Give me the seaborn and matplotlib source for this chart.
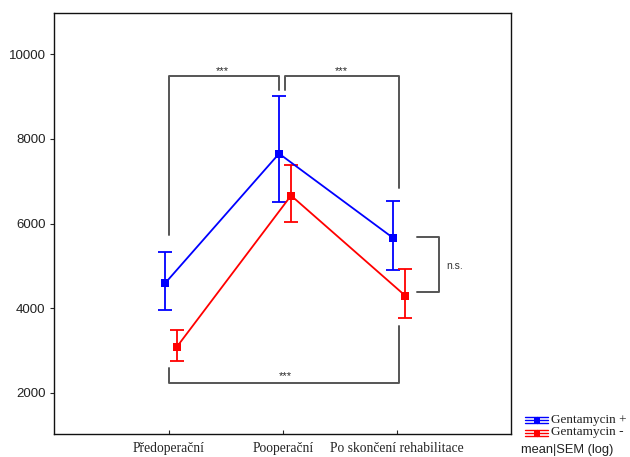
import matplotlib
matplotlib.use("Agg")
import matplotlib.pyplot as plt
import seaborn as sns
import pandas as pd
import numpy as np

categories = ["Předoperační", "Pooperační", "Po skončení rehabilitace"]
groups = ["Gentamycin +", "Gentamycin -"]
blue_mean = [4590, 7650, 5660]
blue_low = [3960, 6500, 4900]
blue_high = [5330, 9010, 6540]
red_mean = [3095, 6660, 4300]
red_low = [2765, 6040, 3775]
red_high = [3475, 7370, 4930]
yticks = [2000, 4000, 6000, 8000, 10000]
sig_labels = ["***", "***", "***", "n.s."]

sns.set_style("white")
plt.rcParams["font.family"] = ["Liberation Sans", "DejaVu Sans"]

fig = plt.figure(figsize=(6.3, 4.57), dpi=100)
ax = fig.add_axes([54/630, 1-434/457, (511-54)/630, (434-13)/457])

offsets = [-0.035, 0.07]
colors = ["#0000ff", "#ff0000"]
means = [blue_mean, red_mean]
lows = [blue_low, red_low]
highs = [blue_high, red_high]

rows = []
for g, off, m in zip(groups, offsets, means):
    for i, (c, v) in enumerate(zip(categories, m)):
        rows.append({"group": g, "x": i + off, "value": v})
df = pd.DataFrame(rows)

sns.lineplot(data=df, x="x", y="value", hue="group", palette=colors,
             marker="s", markersize=6, markeredgewidth=0, linewidth=1.3,
             legend=False, ax=ax, zorder=3)

for g, off, m, lo, hi, col in zip(groups, offsets, means, lows, highs, colors):
    x = np.arange(len(categories)) + off
    m = np.array(m); lo = np.array(lo); hi = np.array(hi)
    ax.errorbar(x, m, yerr=[m - lo, hi - m], fmt="none", ecolor=col,
                elinewidth=1.3, capsize=5, capthick=1.3, zorder=2)

# significance brackets
bc = "#555555"
blw = 1.4
ax.plot([0, 0, 0.965, 0.965], [5740, 9490, 9490, 9155], color=bc, lw=blw)
ax.plot([1.018, 1.018, 2.018, 2.018], [9155, 9490, 9490, 6830], color=bc, lw=blw)
ax.plot([0, 0, 2.018, 2.018], [2600, 2230, 2230, 3570], color=bc, lw=blw)
ax.plot([2.173, 2.371, 2.371, 2.173], [5675, 5675, 4374, 4374], color=bc, lw=blw)
ax.text(0.47, 9600, sig_labels[0], ha="center", va="center", fontsize=8)
ax.text(1.51, 9600, sig_labels[1], ha="center", va="center", fontsize=8)
ax.text(1.02, 2400, sig_labels[2], ha="center", va="center", fontsize=8)
ax.text(2.43, 4990, sig_labels[3], ha="left", va="center", fontsize=7.5, color="#333333")

ax.set_xlim(-1.01, 3.0)
ax.set_ylim(1030, 10970)
ax.set_yticks(yticks)
ax.set_yticklabels([str(t) for t in yticks], fontsize=9.5, color="#222222")
ax.set_xticks(range(len(categories)))
ax.set_xticklabels(categories, fontsize=9.8, family=["Liberation Serif"])
ax.tick_params(axis="y", direction="out", length=3, width=0.8, pad=3, left=True)
ax.tick_params(axis="x", direction="in", length=3, width=0.8, pad=6, bottom=True)
ax.set_xlabel("")
ax.set_ylabel("")
for s in ax.spines.values():
    s.set_color("#111111")
    s.set_linewidth(1.0)

# legend drawn in pixel coordinates
lax = fig.add_axes([520/630, 0, 110/630, 50/457])
lax.set_xlim(0, 110)
lax.set_ylim(50, 0)
lax.axis("off")
for col, yc, lab in [(colors[0], 12.5, groups[0]), (colors[1], 25.5, groups[1])]:
    for dy in (-3, 0, 3):
        lax.plot([5, 28], [yc + dy, yc + dy], color=col, lw=1.0)
    lax.plot([16.5, 16.5], [yc - 3, yc + 3], color=col, lw=1.0)
    lax.plot([16.5], [yc], marker="s", color=col, markersize=4.5, markeredgewidth=0)
    lax.text(31, yc, lab, va="center", ha="left", fontsize=9.5,
             family=["Liberation Serif"], color="#222222")
lax.text(1, 42.5, "mean|SEM (log)", va="center", ha="left", fontsize=9.3, color="#222222")

fig.savefig("out.png", dpi=100)
